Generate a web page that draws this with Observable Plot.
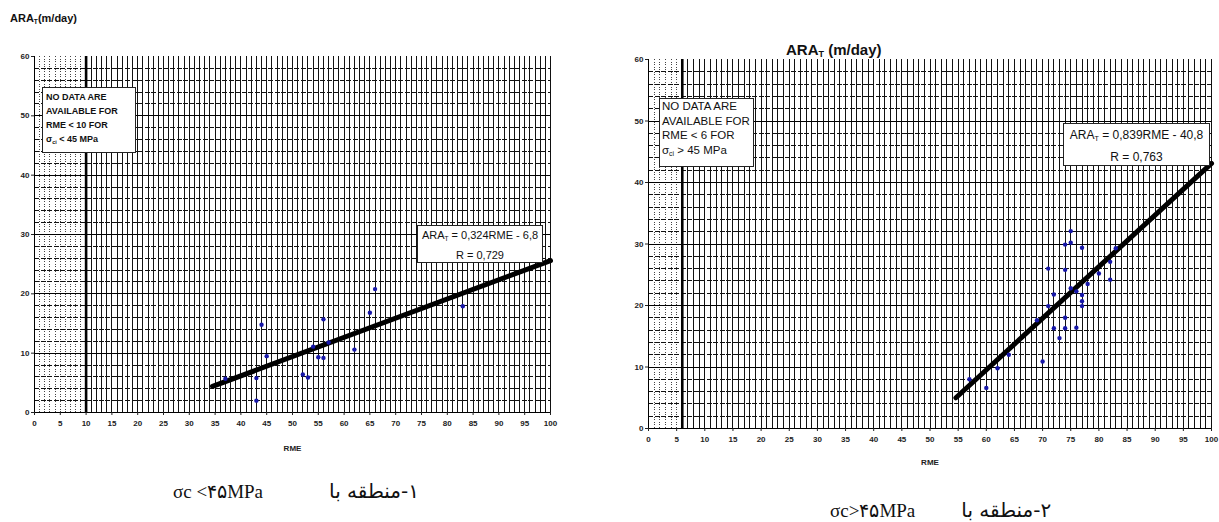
<!DOCTYPE html>
<html>
<head>
<meta charset="utf-8">
<script src="https://cdn.jsdelivr.net/npm/d3@7"></script>
<script src="https://cdn.jsdelivr.net/npm/@observablehq/plot@0.6"></script>
<style>
  html, body { margin: 0; padding: 0; background: #fff; }
  #root { position: relative; width: 1219px; height: 522px; overflow: hidden; font-family: "Liberation Sans", Arial, sans-serif; }
  .abs { position: absolute; }
  .box { position: absolute; background: #fff; border: 1px solid #222; box-sizing: border-box; color: #111; }
  .title { font-weight: bold; color: #111; white-space: nowrap; }
  .cap { font-family: "Liberation Serif", "Times New Roman", serif; font-size: 19px; color: #111; white-space: nowrap; }
  .fa { font-family: "DejaVu Sans", "Noto Sans", sans-serif; font-size: 20px; direction: rtl; unicode-bidi: embed; display: inline-block; }
  sub { font-size: 60%; vertical-align: -2px; }
</style>
</head>
<body>
<div id="root"></div>
<script>
// ---------- data ----------
const xTicks = [0,5,10,15,20,25,30,35,40,45,50,55,60,65,70,75,80,85,90,95,100];
const yTicks = [0,10,20,30,40,50,60];

// Zone 1 : sigma_c < 45 MPa
const leftX = [37,43,43,44,45,52,53,54,55,56,56,57,62,65,66,83];
const leftY = [5.7,5.8,2.0,14.8,9.5,6.4,5.9,11.1,9.3,9.2,15.7,11.8,10.6,16.8,20.8,17.9];
const leftFitX = [34.5,100];
const leftFitY = [4.4,25.6];
const leftLimit = [10];

// Zone 2 : sigma_c > 45 MPa
const rightX = [57,60,62,64,70,69,71,71,72,72,73,74,74,74,74,75,75,75,76,76,77,77,77,77,78,80,82,82,83];
const rightY = [8.0,6.6,9.8,12.0,10.9,17.6,19.9,26.0,21.8,16.3,14.7,16.3,18.0,25.8,29.9,30.2,32.1,22.8,16.4,22.3,29.4,21.7,20.7,19.9,23.5,25.2,27.1,24.2,29.3];
const rightFitX = [54.6,100];
const rightFitY = [5.0,43.1];
const rightLimit = [6];

// ---------- helpers ----------
function gridMarks(limit) {
  const vx = d3.range(1,100).filter(v => v !== limit);
  const hy = d3.range(2,60,2);
  const crisp = {shapeRendering:"crispEdges"};
  return [
    Plot.ruleX(vx.filter(v => v < limit), {stroke:"#444", strokeWidth:1, strokeDasharray:"1,1.5", ...crisp}),
    Plot.ruleX(vx.filter(v => v > limit), {stroke:"#111", strokeWidth:1, ...crisp}),
    Plot.ruleY(hy.filter(v => v % 10 === 0), {stroke:"#000", strokeWidth:1, ...crisp}),
    Plot.ruleY(hy.filter(v => v % 10 !== 0), {stroke:"#111", strokeWidth:1, strokeDasharray:"5,1.5", ...crisp}),
    Plot.ruleX([100], {stroke:"#111", strokeWidth:1, ...crisp})
  ];
}

function makePlot(o) {
  const pts = o.xs.map((x,i) => ({x, y: o.ys[i]}));
  const fit = o.fx.map((x,i) => ({x, y: o.fy[i]}));
  return Plot.plot({
    width: o.width, height: o.height,
    marginLeft: o.ml, marginRight: o.mr, marginTop: o.mt, marginBottom: o.mb,
    x: {domain:[0,100]},
    y: {domain:[0,60]},
    style: {fontFamily:"'Liberation Sans', Arial, sans-serif", fontSize: o.tickFont+"px", fontWeight:"bold", color:"#222", background:"transparent"},
    marks: [
      ...gridMarks(o.limit[0]),
      Plot.ruleX(o.limit, {stroke:"#000", strokeWidth:2.6}),
      Plot.ruleX([0], {stroke:"#000", strokeWidth:1}),
      Plot.ruleY([0], {stroke:"#000", strokeWidth:1}),
      Plot.axisX({ticks: xTicks, tickSize: 3, tickPadding: 5, label: "RME", labelAnchor: "center", labelArrow: "none", labelOffset: o.labelOffset, fontSize: o.tickFont}),
      Plot.axisY({ticks: yTicks, tickSize: 3, tickPadding: 2, label: null, fontSize: o.tickFont}),
      Plot.line(fit, {x:"x", y:"y", stroke:"#000", strokeWidth:5, strokeLinecap:"round"}),
      Plot.dot(pts, {x:"x", y:"y", r:2.2, fill:"#1515a8", stroke:"none"})
    ]
  });
}

const root = document.getElementById("root");

function place(el, left, top) {
  const d = document.createElement("div");
  d.className = "abs";
  d.style.left = left + "px"; d.style.top = top + "px";
  d.appendChild(el);
  root.appendChild(d);
  return d;
}

// left chart: plot area x 34..550, y 56..412
place(makePlot({xs:leftX, ys:leftY, fx:leftFitX, fy:leftFitY, limit:leftLimit,
  width:560, height:460, ml:34, mr:10, mt:56, mb:48, tickFont:8, labelOffset:38}), 0, 0);

// right chart: plot area x 648..1211, y 59..428
place(makePlot({xs:rightX, ys:rightY, fx:rightFitX, fy:rightFitY, limit:rightLimit,
  width:619, height:480, ml:48, mr:8, mt:59, mb:52, tickFont:8, labelOffset:36}), 600, 0);

function html(s, css, cls) {
  const d = document.createElement("div");
  d.className = cls || "abs";
  d.innerHTML = s;
  Object.assign(d.style, css);
  root.appendChild(d);
  return d;
}

html("ARA<sub>T</sub>(m/day)", {left:"10px", top:"12px", fontSize:"11px"}, "abs title");
html("ARA<sub>T</sub> (m/day)", {left:"786px", top:"41px", fontSize:"15px"}, "abs title");

html("NO DATA ARE<br>AVAILABLE FOR<br>RME &lt; 10 FOR<br>σ<sub>ci</sub> &lt; 45 MPa",
  {left:"42px", top:"87px", width:"94px", height:"66px", fontSize:"9px", fontWeight:"bold", lineHeight:"14px", padding:"2px 0 0 3px"}, "box");
html("NO DATA ARE<br>AVAILABLE FOR<br>RME &lt; 6 FOR<br>σ<sub>ci</sub> &gt; 45 MPa",
  {left:"659px", top:"98px", width:"95px", height:"69px", fontSize:"11.5px", lineHeight:"14.5px", padding:"0 0 0 2px", whiteSpace:"nowrap"}, "box");

html("ARA<sub>T</sub> = 0,324RME - 6,8<br>R = 0,729",
  {left:"417px", top:"225px", width:"126px", height:"38px", fontSize:"11px", lineHeight:"17px", textAlign:"center", paddingTop:"1px", whiteSpace:"nowrap"}, "box");
html("ARA<sub>T</sub> = 0,839RME - 40,8<br>R = 0,763",
  {left:"1063px", top:"123px", width:"147px", height:"43px", fontSize:"12px", lineHeight:"19px", textAlign:"center", paddingTop:"2px", whiteSpace:"nowrap", overflow:"hidden"}, "box");

html("σc &lt;۴۵MPa<span style='display:inline-block;width:66px'></span><span class='fa'>۱-منطقه با</span>", {left:"173px", top:"479px"}, "abs cap");
html("σc&gt;۴۵MPa<span style='display:inline-block;width:46px'></span><span class='fa'>۲-منطقه با</span>", {left:"830px", top:"498px"}, "abs cap");
</script>
</body>
</html>
